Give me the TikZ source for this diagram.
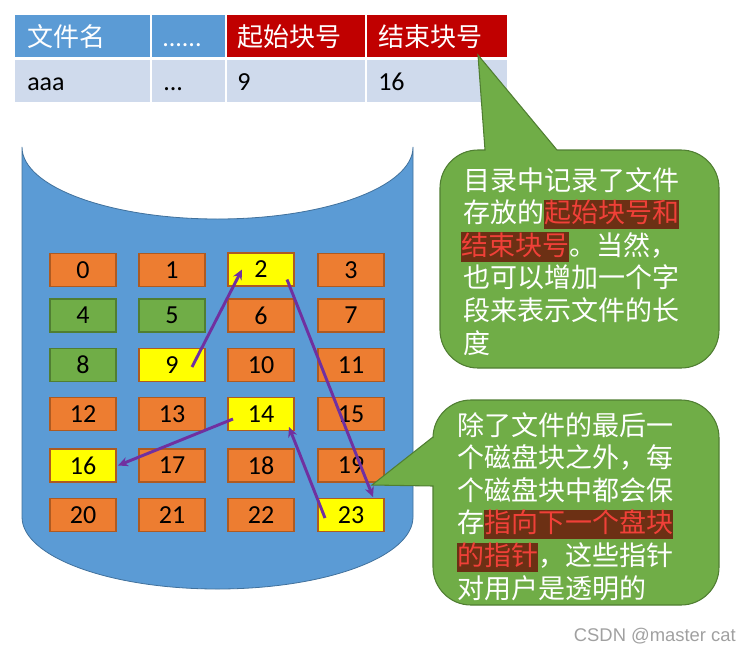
\documentclass[tikz,border=0pt]{standalone}
\usepackage{fontspec}
\setmainfont{Carlito}
\newfontfamily\cjk{Noto Sans CJK SC}
\newfontfamily\wmfont{Liberation Sans}
\usetikzlibrary{arrows.meta}
\definecolor{hdrblue}{HTML}{5B9BD5}
\definecolor{hdrred}{HTML}{C00000}
\definecolor{rowblue}{HTML}{CFDAEC}
\definecolor{cylblue}{HTML}{5B9BD5}
\definecolor{cylline}{HTML}{41719C}
\definecolor{corange}{HTML}{ED7D31}
\definecolor{cgreen}{HTML}{70AD47}
\definecolor{cyellow}{HTML}{FFFF00}
\definecolor{cborder}{HTML}{AE5A21}
\definecolor{gborder}{HTML}{507E32}
\definecolor{arrowpurple}{HTML}{7030A0}
\definecolor{hlbg}{HTML}{6C3014}
\definecolor{hlred}{HTML}{F04038}
\definecolor{wmgray}{HTML}{A0A0A0}
\newcommand{\hlt}[1]{{\setlength{\fboxsep}{0pt}\colorbox{hlbg}{\rule[-0.24em]{0pt}{1.0em}\textcolor{hlred}{#1}}}}
\tikzset{
  cellbox/.style={draw=cborder, line width=0.9pt, minimum width=49.5pt, minimum height=24.75pt, inner sep=0pt, font=\fontsize{19.5}{20}\selectfont, text=black},
  orangecell/.style={cellbox, fill=corange},
  greencell/.style={cellbox, fill=cgreen, draw=gborder},
  yellowcell/.style={cellbox, fill=cyellow},
  hdrtext/.style={anchor=base west, inner sep=0pt, text=white, font=\cjk\fontsize{19.5}{20}\selectfont},
  datatext/.style={anchor=base west, inner sep=0pt, text=black, font=\fontsize{19.5}{20}\selectfont},
  calltext/.style={anchor=base west, inner sep=0pt, text=white, font=\cjk\fontsize{20.25}{24}\selectfont},
  callout/.style={fill=cgreen, draw=gborder, line width=0.8pt},
  ptr/.style={draw=arrowpurple, line width=2.2pt, -{Stealth[length=7.5pt,width=7pt]}}
}
\begin{document}
\begin{tikzpicture}[x=0.75pt,y=-0.75pt]
\useasboundingbox (0,0) rectangle (752,653);
% table
\fill[hdrblue] (15,15) rectangle (150,57);
\fill[hdrblue] (152,15) rectangle (225,57);
\fill[hdrred] (227,15) rectangle (365,57);
\fill[hdrred] (367,15) rectangle (507,57);
\fill[rowblue] (15,60) rectangle (150,102);
\fill[rowblue] (152,60) rectangle (225,102);
\fill[rowblue] (227,60) rectangle (365,102);
\fill[rowblue] (367,60) rectangle (507,102);
\node[hdrtext] (h1) at (27,46) {文件名};
\node[hdrtext, font=\fontsize{19.5}{20}\selectfont] (h2) at (162,46) {......};
\node[hdrtext] (h3) at (237,46) {起始块号};
\node[hdrtext] (h4) at (378,46) {结束块号};
\node[datatext] (d1) at (27,90) {aaa};
\node[datatext] (d2) at (163,90) {...};
\node[datatext] (d3) at (237,90) {9};
\node[datatext] (d4) at (378,90) {16};
% cylinder
\fill[cylblue, draw=cylline, line width=0.6pt] (22,147) -- (22,517)
  arc[start angle=180, end angle=0, x radius=195.5, y radius=72]
  -- (413,147)
  arc[start angle=0, end angle=180, x radius=195.5, y radius=72] -- cycle;
% cells
\node[orangecell] (c0) at (83,270) {0};
\node[orangecell] (c1) at (172,270) {1};
\node[yellowcell] (c2) at (261,269.5) {2};
\node[orangecell] (c3) at (351,270) {3};
\node[greencell] (c4) at (83,315.5) {4};
\node[greencell] (c5) at (172,315.5) {5};
\node[orangecell] (c6) at (261,315.5) {6};
\node[orangecell] (c7) at (351,315.5) {7};
\node[greencell] (c8) at (83,365) {8};
\node[yellowcell] (c9) at (172,365) {9};
\node[orangecell] (c10) at (261,365) {10};
\node[orangecell] (c11) at (351,365) {11};
\node[orangecell] (c12) at (83,414) {12};
\node[orangecell] (c13) at (172,414) {13};
\node[yellowcell] (c14) at (261,414) {14};
\node[orangecell] (c15) at (351,414) {15};
\node[yellowcell] (c16) at (83,465.5) {16};
\node[orangecell] (c17) at (172,465.5) {17};
\node[orangecell] (c18) at (261,465.5) {18};
\node[orangecell] (c19) at (351,465.5) {19};
\node[orangecell] (c20) at (83,515) {20};
\node[orangecell] (c21) at (172,515) {21};
\node[orangecell] (c22) at (261,515) {22};
\node[yellowcell] (c23) at (351,515) {23};
% pointers
\draw[ptr] ([shift={(20,2)}]c9.center) -- ([shift={(-19,0)}]c2.center);
\draw[ptr] ([shift={(26,10)}]c2.center) -- ([shift={(22,-18)}]c23.center);
\draw[ptr] ([shift={(-26,3)}]c23.center) -- ([shift={(28,13)}]c14.center);
\draw[ptr] ([shift={(-28,5)}]c14.center) -- ([shift={(35,0)}]c16.center);
% callout 1
\path[callout] (485,150) -- (478,55) -- (557,150) -- (681,150)
  arc[start angle=-90, end angle=0, radius=38] -- (719,330)
  arc[start angle=0, end angle=90, radius=38] -- (478,368)
  arc[start angle=90, end angle=180, radius=38] -- (440,188)
  arc[start angle=180, end angle=270, radius=38] -- cycle;
\node[calltext] (a1) at (463,190) {目录中记录了文件};
\node[calltext] (a2) at (463,222.6) {存放的\hlt{起始块号和}};
\node[calltext] (a3) at (461,255.2) {\hlt{结束块号}。当然，};
\node[calltext] (a4) at (463,287.8) {也可以增加一个字};
\node[calltext] (a5) at (463,320.4) {段来表示文件的长};
\node[calltext] (a6) at (463,353) {度};
% callout 2
\path[callout] (471,400) -- (681,400)
  arc[start angle=-90, end angle=0, radius=38] -- (719,567)
  arc[start angle=0, end angle=90, radius=38] -- (471,605)
  arc[start angle=90, end angle=180, radius=38] -- (433,486)
  -- (372,485) -- (433,437) -- (433,438)
  arc[start angle=180, end angle=270, radius=38] -- cycle;
\node[calltext] (b1) at (457,435) {除了文件的最后一};
\node[calltext] (b2) at (457,467.6) {个磁盘块之外，每};
\node[calltext] (b3) at (457,500.2) {个磁盘块中都会保};
\node[calltext] (b4) at (457,532.8) {存\hlt{指向下一个盘块}};
\node[calltext] (b5) at (457,565.4) {\hlt{的指针}，这些指针};
\node[calltext] (b6) at (457,598) {对用户是透明的};
% watermark
\node[anchor=east, inner sep=0pt, text=wmgray, font=\wmfont\fontsize{13.8}{15}\selectfont] (wm) at (736,636) {CSDN @master cat};
\end{tikzpicture}
\end{document}
